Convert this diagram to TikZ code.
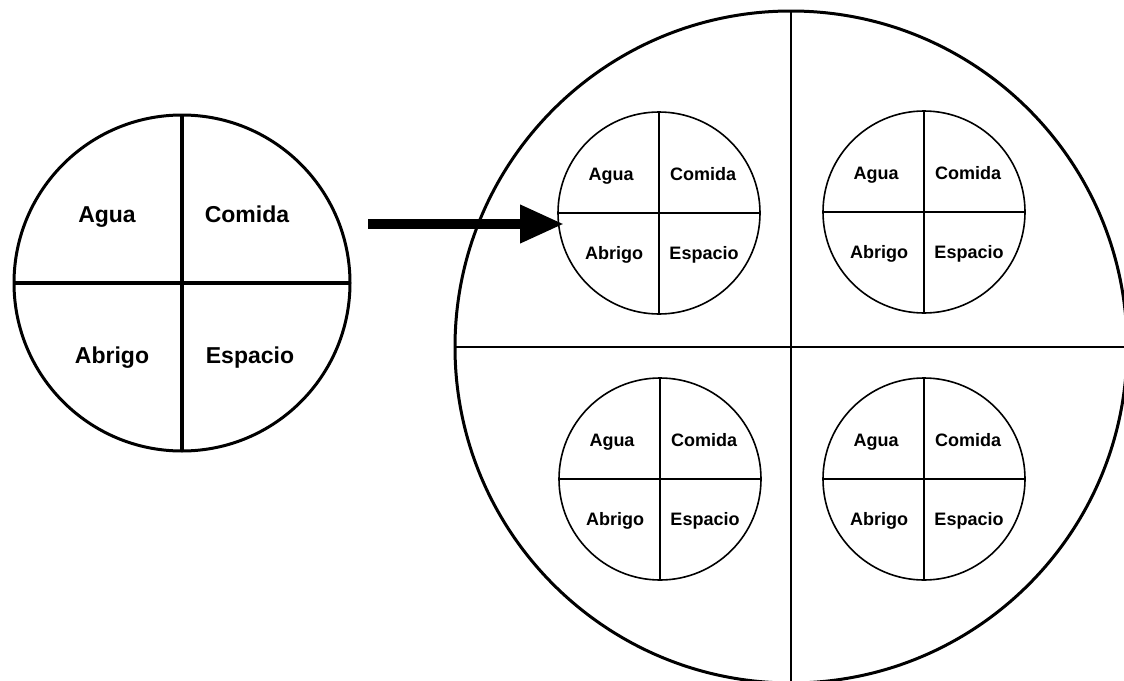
\documentclass[tikz,border=0pt]{standalone}
\usepackage{fontspec}
\setmainfont{Liberation Sans}
\usetikzlibrary{arrows.meta}
\begin{document}
\begin{tikzpicture}[x=1pt,y=-1pt,
  ring/.style={circle, draw, inner sep=0pt, outer sep=0pt},
  bigring/.style={ring, line width=3pt, minimum size=672pt},
  leftring/.style={ring, line width=3pt, minimum size=336pt},
  smallring/.style={ring, line width=1.6pt, minimum size=202pt},
  bigdiv/.style={line width=2.4pt},
  leftdiv/.style={line width=3.4pt},
  smalldiv/.style={line width=2pt},
  biglbl/.style={inner sep=0pt, anchor=base, font=\bfseries\fontsize{23}{27}\selectfont},
  smalllbl/.style={inner sep=0pt, anchor=base, font=\bfseries\fontsize{18}{22}\selectfont},
  fatarrow/.style={line width=10pt, -{Triangle[length=44pt,width=36pt]}}
]
\useasboundingbox (0,0) rectangle (1124,680);
\clip (0,0) rectangle (1124,680);

% left circle
\node[leftring] (L) at (182,283) {};
\draw[leftdiv] (L.north) -- (L.south);
\draw[leftdiv] (L.west) -- (L.east);
\node[biglbl] (L-agua) at (107,222) {Agua};
\node[biglbl] (L-comida) at (247,222) {Comida};
\node[biglbl] (L-abrigo) at (112,363) {Abrigo};
\node[biglbl] (L-espacio) at (250,363) {Espacio};

% big circle
\node[bigring] (B) at (791,347) {};
\draw[bigdiv] (B.north) -- (B.south);
\draw[bigdiv] (B.west) -- (B.east);

% small circles
\foreach \n/\cx/\cy in {TL/659/213, TR/924/212, BL/660/479, BR/924/479}{
  \node[smallring] (\n) at (\cx,\cy) {};
  \draw[smalldiv] (\n.north) -- (\n.south);
  \draw[smalldiv] (\n.west) -- (\n.east);
  \node[smalllbl] (\n-agua) at (\cx-48,\cy-33) {Agua};
  \node[smalllbl] (\n-comida) at (\cx+44,\cy-33) {Comida};
  \node[smalllbl] (\n-abrigo) at (\cx-45,\cy+46) {Abrigo};
  \node[smalllbl] (\n-espacio) at (\cx+45,\cy+46) {Espacio};
}

% arrow
\coordinate (astart) at (368,224);
\coordinate (aend) at ([xshift=6pt]TL.west |- astart);
\draw[fatarrow] (astart) -- (aend);
\end{tikzpicture}
\end{document}
